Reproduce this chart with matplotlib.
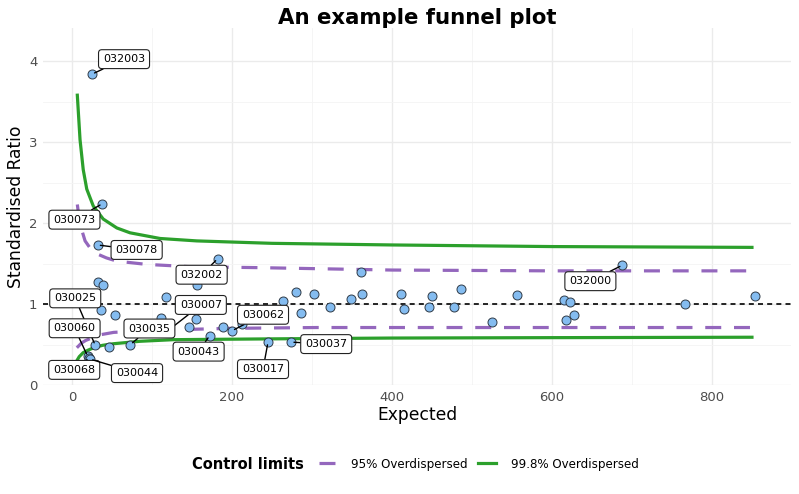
"""
Funnel plot of standardised ratios with overdispersed control limits.
"""
import matplotlib
matplotlib.use('Agg')
import matplotlib.pyplot as plt
from matplotlib.lines import Line2D
from matplotlib.ticker import MultipleLocator

# Units: expected count vs standardised ratio.
expected = [25, 38, 32, 182, 33, 39, 156, 118, 36, 54, 111, 155, 146, 121, 189,
            200, 213, 264, 280, 286, 303, 322, 349, 361, 363, 411, 415, 446, 450,
            477, 486, 525, 556, 615, 622, 628, 618, 688, 766, 854, 172, 245, 274,
            73, 46, 29, 19.5, 21.5, 22.5]
ratio = [3.84, 2.24, 1.73, 1.56, 1.27, 1.24, 1.24, 1.09, 0.93, 0.86, 0.83, 0.81,
         0.72, 0.68, 0.72, 0.67, 0.75, 1.04, 1.15, 0.89, 1.12, 0.96, 1.06, 1.40,
         1.12, 1.12, 0.94, 0.96, 1.10, 0.96, 1.18, 0.78, 1.11, 1.05, 1.02, 0.87,
         0.80, 1.48, 1.00, 1.10, 0.61, 0.53, 0.53, 0.50, 0.47, 0.49, 0.355, 0.335,
         0.32]
codes = ['032003', '030073', '030078', '032002', '', '', '', '', '', '', '', '',
         '', '030007', '', '030062', '', '', '', '', '', '', '', '', '', '', '',
         '', '', '', '', '', '', '', '', '', '', '032000', '', '', '030043',
         '030017', '030037', '030035', '', '030025', '030060', '030068', '030044']

# Control limits.
up998_x = [6.6, 10, 14, 18.4, 26.6, 39, 56, 72.5, 110, 156, 250, 400, 600, 850]
up998_y = [3.58, 3.03, 2.66, 2.42, 2.21, 2.05, 1.94, 1.88, 1.81, 1.78, 1.75, 1.73, 1.71, 1.70]
lo998_x = [6, 9, 14, 20, 27, 38, 52, 85, 127, 250, 400, 600, 850]
lo998_y = [0.30, 0.35, 0.40, 0.43, 0.46, 0.49, 0.51, 0.54, 0.56, 0.57, 0.58, 0.585, 0.59]
up95_x = [6.6, 9, 12, 16.3, 22, 28.8, 43, 56, 93, 150, 232, 400, 600, 850]
up95_y = [2.23, 2.05, 1.92, 1.78, 1.70, 1.63, 1.57, 1.53, 1.49, 1.46, 1.45, 1.42, 1.41, 1.41]
lo95_x = [6, 9, 12, 17, 22, 35, 52, 80, 114, 200, 306, 500, 850]
lo95_y = [0.46, 0.49, 0.52, 0.55, 0.57, 0.62, 0.65, 0.665, 0.68, 0.70, 0.71, 0.71, 0.71]

# label placement (pixel offsets from the point, like ggrepel gave)
label_offsets = {
    '032003': (32, 15), '030073': (-28, -16), '030078': (39, -5),
    '032002': (-16, -16), '030025': (-20, 47), '030007': (32, 25),
    '030062': (31, 16), '030035': (19, 16), '030060': (-13, 28),
    '030043': (-11, -16), '030017': (-5, -27), '030037': (35, -2),
    '030068': (-15, -12), '030044': (47, -14), '032000': (-32, -16),
}

green = '#2ca02c'
purple = '#9467bd'

fig = plt.figure(figsize=(7.99, 4.94), dpi=100)
ax = fig.add_axes([43/799, 109/494, 748/799, 357/494])

ax.set_xlim(-36.3, 898.8)
ax.set_ylim(0, 4.41)
ax.xaxis.set_major_locator(MultipleLocator(200))
ax.xaxis.set_minor_locator(MultipleLocator(100))
ax.yaxis.set_major_locator(MultipleLocator(1))
ax.yaxis.set_minor_locator(MultipleLocator(0.5))
ax.grid(which='major', color='#ebebeb', lw=1.0)
ax.grid(which='minor', color='#f4f4f4', lw=0.6)
ax.set_axisbelow(True)
for s in ax.spines.values():
    s.set_visible(False)
ax.tick_params(which='both', length=0, labelsize=9.5, labelcolor='#4d4d4d', pad=4)

ax.axhline(1, color='black', lw=1.2, dashes=(3, 2.5), zorder=2)
ax.plot(up95_x, up95_y, color=purple, lw=2.3, dashes=(5, 4), zorder=3)
ax.plot(lo95_x, lo95_y, color=purple, lw=2.3, dashes=(5, 4), zorder=3)
ax.plot(up998_x, up998_y, color=green, lw=2.3, zorder=3)
ax.plot(lo998_x, lo998_y, color=green, lw=2.3, zorder=3)

ax.scatter(expected, ratio, s=42, c='#84bcf0', edgecolors='#2f3b48', linewidths=0.7, zorder=4)

for x, y, code in zip(expected, ratio, codes):
    if not code:
        continue
    dx, dy = label_offsets[code]
    ax.annotate(code, (x, y), xytext=(dx, dy), textcoords='offset pixels',
                ha='center', va='center', fontsize=8, zorder=6,
                bbox=dict(boxstyle='round,pad=0.4,rounding_size=0.3', fc='white', ec='#222222', lw=0.8),
                arrowprops=dict(arrowstyle='-', color='black', lw=1.0, shrinkA=0, shrinkB=2))

ax.set_xlabel('Expected', fontsize=12.3, labelpad=2)
ax.set_ylabel('Standardised Ratio', fontsize=12.3, labelpad=3)
ax.set_title('An example funnel plot', fontsize=15.3, fontweight='bold', pad=1)

handles = [Line2D([], [], color=purple, lw=2.3, dashes=(5, 4)),
           Line2D([], [], color=green, lw=2.3)]
fig.text(192/799, 1 - 464/494, 'Control limits', fontsize=10.5, fontweight='bold', va='center')
fig.legend(handles, ['95% Overdispersed', '99.8% Overdispersed'], loc='center left',
           bbox_to_anchor=(308/799, 1 - 464/494), ncol=2, frameon=False, fontsize=8.6,
           handlelength=1.5, handletextpad=1.2, columnspacing=0.9)

fig.savefig('out.png', dpi=100)
